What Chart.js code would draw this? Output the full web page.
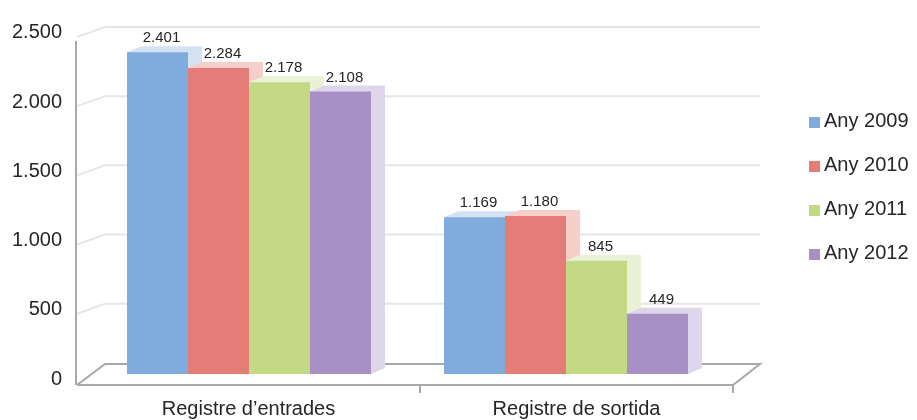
<!DOCTYPE html>
<html>
<head>
<meta charset="utf-8">
<title>Registres</title>
<script src="https://cdn.jsdelivr.net/npm/chart.js@4/dist/chart.umd.min.js"></script>
<style>
  html, body { margin: 0; padding: 0; background: #fff; }
  #wrap { width: 917px; height: 420px; }
</style>
</head>
<body>
<div id="wrap"><canvas id="chart" width="917" height="420"></canvas></div>
<script>
// data
const categories = ['Registre d\u2019entrades', 'Registre de sortida'];
const seriesNames = ['Any 2009', 'Any 2010', 'Any 2011', 'Any 2012'];
const any2009 = [2401, 1169];
const any2010 = [2284, 1180];
const any2011 = [2178, 845];
const any2012 = [2108, 449];
const yTicks = [0, 500, 1000, 1500, 2000, 2500];

const frontColors = ['#7facdc', '#e47c78', '#c4d984', '#a790c5'];
const sideColors = ['#d5e2f4', '#f6cfcb', '#e9f1d6', '#ded6ea'];

const FONT = "'Liberation Sans', Arial, sans-serif";
const TEXT = '#262626';
const DX = 14, DY = -6;   // depth of the bars

const fmt = n => String(n).replace(/\B(?=(\d{3})+(?!\d))/g, '.');

// back wall gridlines sit on a slightly steeper scale than the bar faces
function backY(chart, v) {
    const ca = chart.chartArea;
    const y = chart.scales.y;
    return (ca.bottom - 1) - (ca.bottom - y.getPixelForValue(v)) * 1.033;
}

const box3d = {
    id: 'box3d',
    beforeDatasetsDraw(chart) {
        const { ctx, chartArea: ca } = chart;
        const xl = ca.left - 13.5, xb = ca.left + 14.5, xr = ca.right + 35.5, xf = ca.right + 8.5;
        const floorFront = ca.bottom + 11, floorBack = ca.bottom - 10;
        ctx.save();

        // gridlines on the back wall
        ctx.strokeStyle = '#e6e6e6';
        ctx.lineWidth = 2;
        yTicks.slice(1).forEach(v => {
            const b = backY(chart, v);
            ctx.beginPath();
            ctx.moveTo(xl, b + 10);
            ctx.lineTo(xb, b);
            ctx.lineTo(xr, b);
            ctx.stroke();
        });

        // floor and left edge
        ctx.strokeStyle = '#a8a8a8';
        ctx.lineWidth = 2;
        ctx.beginPath();
        ctx.moveTo(xl, floorFront); ctx.lineTo(xb, floorBack); ctx.lineTo(xr, floorBack);
        ctx.lineTo(xf, floorFront); ctx.lineTo(xl, floorFront);
        ctx.stroke();
        ctx.beginPath();
        ctx.moveTo(xl - 1, backY(chart, 2500) + 14); ctx.lineTo(xl - 1, floorFront);
        ctx.stroke();
        const mid = chart.scales.x.getPixelForValue(0.5) + 12.5;
        [mid, xf].forEach(t => {
            ctx.beginPath(); ctx.moveTo(t, floorFront); ctx.lineTo(t, floorFront + 8); ctx.stroke();
        });

        // light top and side faces behind each bar
        chart.data.datasets.forEach((ds, i) => {
            chart.getDatasetMeta(i).data.forEach(bar => {
                const p = bar.getProps(['x', 'y', 'base', 'width'], true);
                const x0 = p.x - p.width / 2, x1 = p.x + p.width / 2;
                ctx.fillStyle = sideColors[i];
                ctx.beginPath();
                ctx.moveTo(x0, p.y);
                ctx.lineTo(x0 + DX, p.y + DY);
                ctx.lineTo(x1 + DX, p.y + DY);
                ctx.lineTo(x1 + DX, p.base + DY);
                ctx.lineTo(x1, p.base);
                ctx.closePath();
                ctx.fill();
            });
        });
        ctx.restore();
    },

    afterDatasetsDraw(chart) {
        const { ctx, chartArea: ca } = chart;
        ctx.save();
        ctx.fillStyle = TEXT;

        // value labels
        ctx.font = '15px ' + FONT;
        ctx.textAlign = 'center';
        ctx.textBaseline = 'middle';
        chart.data.datasets.forEach((ds, i) => {
            chart.getDatasetMeta(i).data.forEach((bar, j) => {
                ctx.fillText(fmt(ds.data[j]), bar.x + 4, bar.y - 14);
            });
        });

        // y tick labels
        ctx.font = '20px ' + FONT;
        ctx.textAlign = 'right';
        yTicks.forEach(v => {
            ctx.fillText(fmt(v), ca.left - 28.5, backY(chart, v) + 6);
        });

        // category labels, centred on the front floor segments
        const xl = ca.left - 13.5, xf = ca.right + 8.5;
        const mid = chart.scales.x.getPixelForValue(0.5) + 12.5;
        ctx.textAlign = 'center';
        ctx.textBaseline = 'alphabetic';
        ctx.fillText(categories[0], (xl + mid) / 2, ca.bottom + 41);
        ctx.fillText(categories[1], (mid + xf) / 2, ca.bottom + 41);

        // legend
        ctx.textAlign = 'left';
        ctx.textBaseline = 'middle';
        chart.data.datasets.forEach((ds, i) => {
            const cy = 121 + i * 44;
            ctx.fillStyle = frontColors[i];
            ctx.fillRect(809, cy - 4, 11, 11);
            ctx.fillStyle = TEXT;
            ctx.fillText(ds.label, 824, cy);
        });
        ctx.restore();
    }
};

const seriesData = [any2009, any2010, any2011, any2012];

new Chart(document.getElementById('chart'), {
    type: 'bar',
    data: {
        labels: categories,
        datasets: seriesData.map((d, i) => ({
            label: seriesNames[i],
            data: d,
            backgroundColor: frontColors[i],
            borderWidth: 0,
            barPercentage: 1,
            categoryPercentage: 0.7697
        }))
    },
    options: {
        responsive: false,
        devicePixelRatio: 1,
        animation: false,
        layout: { padding: { left: 90.5, right: 192.5, top: 39, bottom: 46 } },
        plugins: {
            legend: { display: false },
            tooltip: { enabled: false }
        },
        scales: {
            x: { display: false },
            y: { display: false, min: 0, max: 2500 }
        }
    },
    plugins: [box3d]
});
</script>
</body>
</html>
